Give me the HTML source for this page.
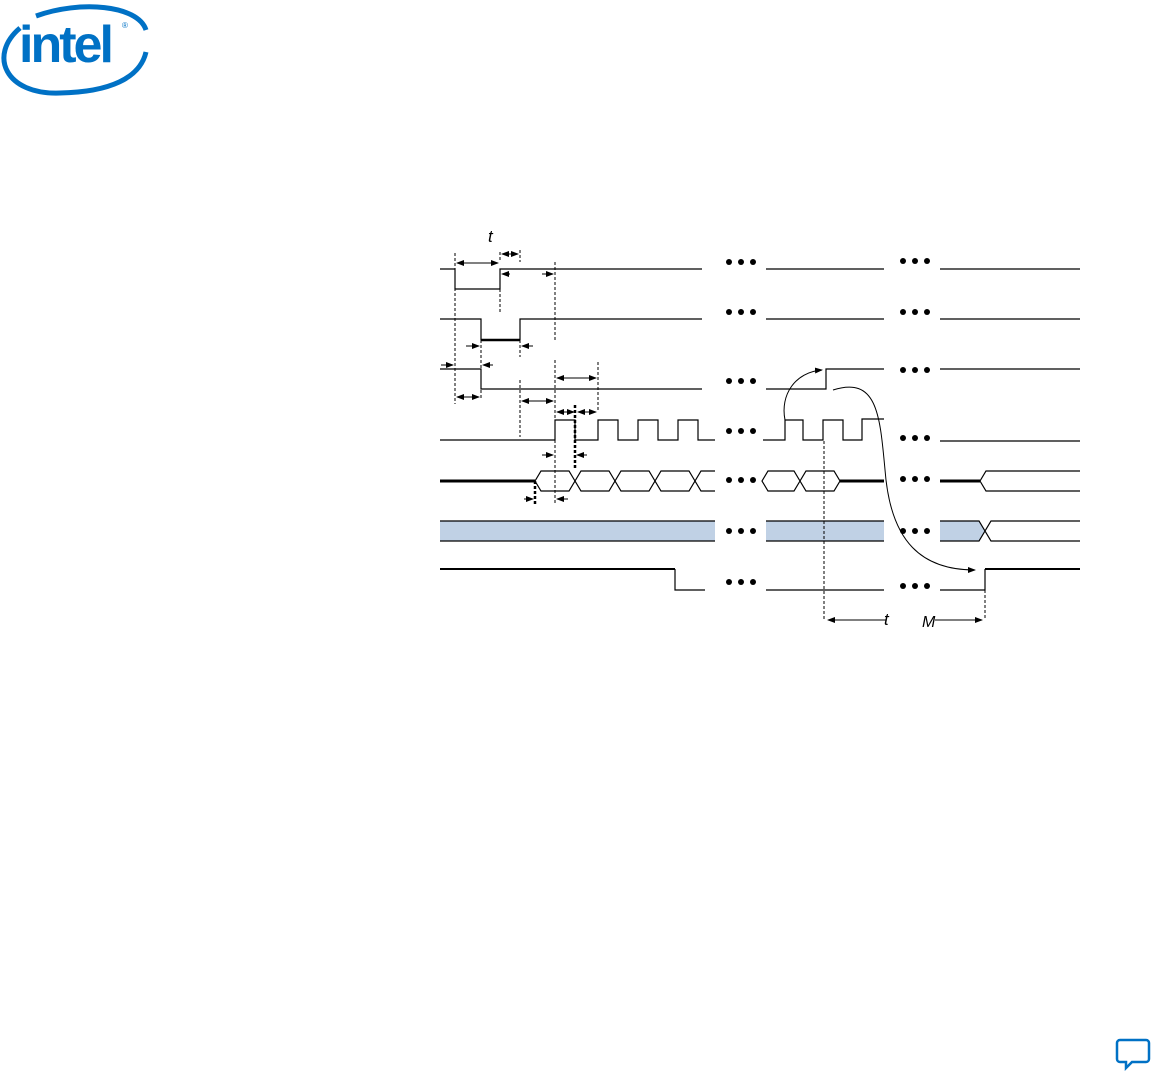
<!DOCTYPE html>
<html><head><meta charset="utf-8"><style>
html,body{margin:0;padding:0;background:#fff;width:1151px;height:1075px;overflow:hidden}
svg{position:absolute;left:0;top:0}
</style></head><body>
<svg width="1151" height="1075" viewBox="0 0 1151 1075" xmlns="http://www.w3.org/2000/svg" font-family="Liberation Sans, sans-serif">
<defs>
<marker id="a" markerWidth="8" markerHeight="6" refX="7" refY="3" orient="auto"><path d="M0,0 L8,3 L0,6 z" fill="#000"/></marker>
</defs>
<!-- Intel logo -->
<g fill="none" stroke="#0071c5">
<path d="M20,28 C-12,55 5,95 60,93 C110,92 140,78 146,52" stroke-width="5"/>
<path d="M36,16 C80,0 138,5 146,30" stroke-width="5"/>
</g>
<text x="19" y="62" font-size="52" font-weight="bold" fill="#0071c5" letter-spacing="-3">intel</text>
<text x="122" y="28" font-size="8" fill="#0071c5">®</text>

<g stroke="#000" stroke-width="1.2" fill="none">
<path d="M440,269 H455 V289 H500 V269 H702"/>
<path d="M766,269 H884 M940,269 H1080"/>
<path d="M440,319 H481 V340 M520,340 V319 H702"/>
<path d="M481,340 H520" stroke-width="2.5"/>
<path d="M766,319 H884 M940,319 H1080"/>
<path d="M440,369 H481 V389 H702"/>
<path d="M766,389 H826 V369 H884 M940,369 H1080"/>
<path d="M440,440 H555 V420 H575 V440 H598 V420 H618 V440 H638 V420 H658 V440 H678 V420 H698 V440 H715"/>
<path d="M763,440 H785 V420 H803 V440 H823 V420 H843 V440 H862 V419 H884"/>
<path d="M940,441 H1080"/>
<path d="M440,481 H535" stroke-width="3"/>
<path d="M535,481 L541,471 H569 L575,481 L581,471 H609 L615,481 L621,471 H649 L655,481 L661,471 H689 L695,481 L701,471 H715"/>
<path d="M535,481 L541,491 H569 L575,481 L581,491 H609 L615,481 L621,491 H649 L655,481 L661,491 H689 L695,481 L701,491 H715"/>
<path d="M762,481 L768,471 H794 L800,481 L806,471 H834 L840,481 L834,491 H806 L800,481 L794,491 H768 Z"/>
<path d="M840,481 H884 M940,481 H980" stroke-width="3"/>
<path d="M980,481 L986,471 H1080 M980,481 L986,491 H1080"/>
<rect x="440" y="521" width="275" height="20" fill="#c0d1e5" stroke="none"/>
<path d="M440,521 H715 M440,541 H715"/>
<rect x="766" y="521" width="118" height="20" fill="#c0d1e5" stroke="none"/>
<path d="M766,521 H884 M766,541 H884"/>
<path d="M940,521 H979 L985,531 L979,541 H940 Z" fill="#c0d1e5" stroke="none"/>
<path d="M940,521 H979 L991,541 H1080 M940,541 H979 L991,521 H1080"/>
<path d="M440,569 H675" stroke-width="2"/>
<path d="M675,569 V590 H705"/>
<path d="M766,590 H884 M940,590 H985 V569"/>
<path d="M985,569 H1080" stroke-width="2"/>
</g>
<g stroke="#000" stroke-width="1" stroke-dasharray="3,2" fill="none">
<path d="M455,253 V404 M500,252 V262 M500,289 V313 M520,250 V262 M520,340 V357 M520,380 V437 M481,340 V400 M555,262 V340 M555,360 V505 M598,362 V412 M824,441 V620 M985,590 V620"/>
<path d="M575,405 V470 M535,481 V505" stroke-width="2.5"/>
</g>
<g stroke="#000" stroke-width="1" fill="none" marker-end="url(#a)">
<path d="M478,263 H457"/><path d="M478,263 H498"/>
<path d="M510,254 H502"/><path d="M510,254 H518"/>
<path d="M510,274 H502"/><path d="M542,274 H553"/>
<path d="M466,346 H479"/><path d="M533,346 H522"/>
<path d="M441,365 H453"/><path d="M493,365 H483"/>
<path d="M468,397 H457"/><path d="M468,397 H479"/>
<path d="M538,401 H522"/><path d="M538,401 H553"/>
<path d="M576,378 H557"/><path d="M576,378 H596"/>
<path d="M565,412 H557"/><path d="M565,412 H574"/>
<path d="M588,412 H578"/><path d="M588,412 H596"/>
<path d="M542,455 H553"/><path d="M587,455 H577"/>
<path d="M524,499 H533"/><path d="M568,499 H557"/>
<path d="M860,620 H828"/><path d="M944,620 H982"/>
<path d="M785,420 C780,395 795,372 822,370"/>
<path d="M833,390 C880,375 880,420 886,480 C893,540 920,570 975,570"/>
</g>
<g stroke="#000" stroke-width="1"><path d="M860,620 H886 M935,620 H944"/></g>
<g fill="#000">
<circle cx="729" cy="262" r="3"/><circle cx="741" cy="262" r="3"/><circle cx="753" cy="262" r="3"/>
<circle cx="903" cy="261" r="3"/><circle cx="915" cy="261" r="3"/><circle cx="927" cy="261" r="3"/>
<circle cx="729" cy="312" r="3"/><circle cx="741" cy="312" r="3"/><circle cx="753" cy="312" r="3"/>
<circle cx="903" cy="312" r="3"/><circle cx="915" cy="312" r="3"/><circle cx="927" cy="312" r="3"/>
<circle cx="729" cy="381" r="3"/><circle cx="741" cy="381" r="3"/><circle cx="753" cy="381" r="3"/>
<circle cx="903" cy="370" r="3"/><circle cx="915" cy="370" r="3"/><circle cx="927" cy="370" r="3"/>
<circle cx="729" cy="431" r="3"/><circle cx="741" cy="431" r="3"/><circle cx="753" cy="431" r="3"/>
<circle cx="903" cy="438" r="3"/><circle cx="915" cy="438" r="3"/><circle cx="927" cy="438" r="3"/>
<circle cx="729" cy="480" r="3"/><circle cx="741" cy="480" r="3"/><circle cx="753" cy="480" r="3"/>
<circle cx="903" cy="479" r="3"/><circle cx="915" cy="479" r="3"/><circle cx="927" cy="479" r="3"/>
<circle cx="729" cy="531" r="3"/><circle cx="741" cy="531" r="3"/><circle cx="753" cy="531" r="3"/>
<circle cx="903" cy="531" r="3"/><circle cx="915" cy="531" r="3"/><circle cx="927" cy="531" r="3"/>
<circle cx="729" cy="582" r="3"/><circle cx="741" cy="582" r="3"/><circle cx="753" cy="582" r="3"/>
<circle cx="903" cy="586" r="3"/><circle cx="915" cy="586" r="3"/><circle cx="927" cy="586" r="3"/>
</g>
<text x="488" y="242" font-size="17" font-style="italic">t</text>
<text x="884" y="625" font-size="17" font-style="italic">t</text>
<text x="922" y="627" font-size="16" font-style="italic">M</text>
<path d="M1120,1040 h26 a3,3 0 0 1 3,3 v16 a3,3 0 0 1 -3,3 h-14 l-6,6 v-6 h-6 a3,3 0 0 1 -3,-3 v-16 a3,3 0 0 1 3,-3 z" fill="none" stroke="#0071c5" stroke-width="2.5"/>
</svg>
</body></html>
